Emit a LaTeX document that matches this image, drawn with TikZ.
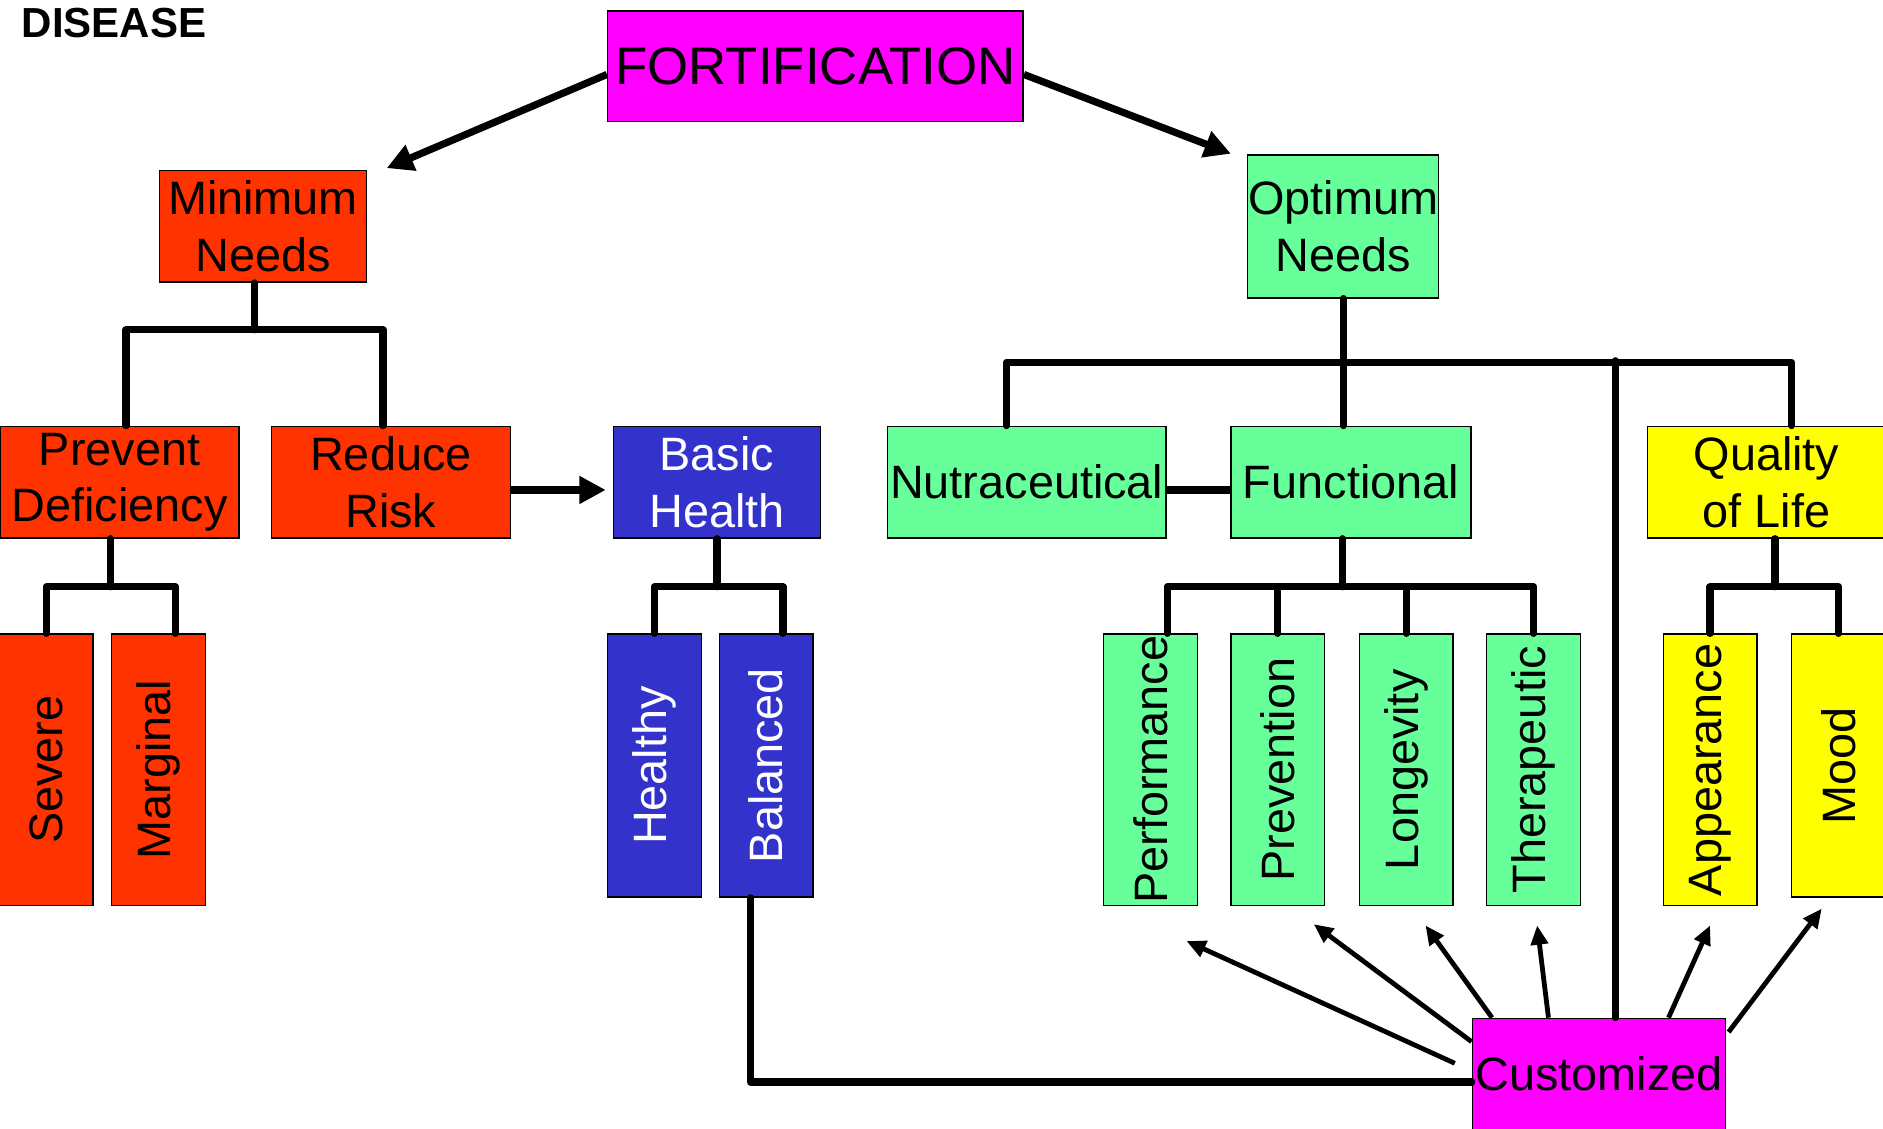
\documentclass[tikz,border=0pt]{standalone}
\usepackage{fontspec}
\usepackage{graphicx}
\setmainfont{Liberation Sans}
\usetikzlibrary{arrows.meta, positioning, calc}

\definecolor{fortmag}{HTML}{FF00FF}
\definecolor{minred}{HTML}{FF3300}
\definecolor{optgreen}{HTML}{66FF99}
\definecolor{basicblue}{HTML}{3333CC}
\definecolor{lifeyellow}{HTML}{FFFF00}

\newcommand{\uptext}[1]{\rotatebox{90}{#1}}

\tikzset{
  box/.style={draw=black, line width=1.2pt, inner sep=0pt, align=center,
    font=\fontsize{39}{47}\selectfont, minimum height=93},
  vbox/.style={box, minimum width=78, minimum height=226},
  tree/.style={line width=6pt, line cap=round, line join=round},
  bigarrow/.style={line width=6pt, -{Triangle[length=22pt,width=22pt]}},
  smallarrow/.style={line width=4pt, -{Triangle[length=16pt,width=14pt]}},
}

\begin{document}
\begin{tikzpicture}[x=1pt, y=-1pt]
    \useasboundingbox (0,0) rectangle (1568,940);

    % Title
    \node[anchor=west, inner sep=0pt, font=\fontsize{35}{42}\selectfont\bfseries] (disease) at (18,19) {DISEASE};

    % Top level
    \node[box, fill=fortmag, minimum width=346, minimum height=92,
          font=\fontsize{44}{53}\selectfont] (fort) at (679,55) {FORTIFICATION};
    \node[box, fill=minred, minimum width=172] (minneeds) at (219,188.5) {Minimum\\Needs};
    \node[box, fill=optgreen, minimum width=159, minimum height=119] (optneeds) at (1118.5,188.5) {Optimum\\Needs};

    % Second row
    \node[box, fill=minred, minimum width=199] (prevdef) at (99.5,401.5) {Prevent\\Deficiency};
    \node[box, fill=minred, minimum width=199] (redrisk) at (325.5,401.5) {Reduce\\Risk};
    \node[box, fill=basicblue, text=white, minimum width=172] (basic) at (597,401.5) {Basic\\Health};
    \node[box, fill=optgreen, minimum width=232] (nutra) at (855,401.5) {Nutraceutical};
    \node[box, fill=optgreen, minimum width=200] (func) at (1125,401.5) {Functional};
    \node[box, fill=lifeyellow, minimum width=198] (qual) at (1471,401.5) {Quality\\of Life};

    % Vertical boxes
    \node[vbox, fill=minred] (severe) at (38.5,641) {\uptext{Severe}};
    \node[vbox, fill=minred] (marginal) at (132,641) {\uptext{Marginal}};
    \node[vbox, fill=basicblue, text=white, minimum height=219] (healthy) at (545,637.5) {\uptext{Healthy}};
    \node[vbox, fill=basicblue, text=white, minimum height=219] (balanced) at (638,637.5) {\uptext{Balanced}};
    \node[vbox, fill=optgreen] (perf) at (958,641) {\uptext{Performance}};
    \node[vbox, fill=optgreen] (prev) at (1064,641) {\uptext{Prevention}};
    \node[vbox, fill=optgreen] (longev) at (1171,641) {\uptext{Longevity}};
    \node[vbox, fill=optgreen] (thera) at (1277,641) {\uptext{Therapeutic}};
    \node[vbox, fill=lifeyellow] (appear) at (1424,641) {\uptext{Appearance}};
    \node[vbox, fill=lifeyellow, minimum height=219] (mood) at (1531,637.5) {\uptext{Mood}};

    % Bottom
    \node[box, fill=fortmag, minimum width=211] (cust) at (1331.5,894.5) {Customized};

    % Arrows from the top
    \coordinate (minin) at (322,140);
    \coordinate (optin) at (1025,128);
    \draw[bigarrow] ($(fort.west)+(0,7)$) -- (minin);
    \draw[bigarrow] ($(fort.east)+(0,7)$) -- (optin);
    \draw[bigarrow] ($(redrisk.east)+(0,6.5)$) -- ($(basic.west)+(-6,6.5)$);

    % Minimum needs
    \draw[tree] ($(minneeds.south)+(-7,0)$) -- ++(0,39) coordinate (mfork);
    \draw[tree] ($(prevdef.north)+(5.5,0)$) |- (mfork) -| ($(redrisk.north)+(-6.5,0)$);
    \draw[tree] ($(prevdef.south)+(-7.5,0)$) -- ++(0,40) coordinate (pfork);
    \draw[tree] (severe.north) |- (pfork) -| ($(marginal.north)+(14,0)$);

    % Basic health
    \draw[tree] (basic.south) -- ++(0,40) coordinate (bfork);
    \draw[tree] (healthy.north) |- (bfork) -| ($(balanced.north)+(14,0)$);

    % Optimum needs
    \draw[tree] (optneeds.south) -- (optneeds.south |- func.north);
    \path (optneeds.south) ++(0,53) coordinate (ofork);
    \draw[tree] ($(nutra.north)+(-17,0)$) |- (ofork) -| ($(qual.north)+(21,0)$);
    \draw[tree] ($(cust.north)+(13.5,0)$) -- ++(0,-547);
    \draw[line width=6pt] ($(nutra.east)+(0,6.5)$) -- ($(func.west)+(0,6.5)$);

    % Functional
    \draw[tree] ($(func.south)+(-7,0)$) -- ++(0,40) coordinate (ffork);
    \draw[tree] ($(perf.north)+(14,0)$) |- (ffork) -| (thera.north);
    \draw[tree] (prev.north) -- (prev.north |- ffork);
    \draw[tree] (longev.north) -- (longev.north |- ffork);

    % Quality of life
    \draw[tree] ($(qual.south)+(7,0)$) -- ++(0,40) coordinate (qfork);
    \draw[tree] (appear.north) |- (qfork) -| (mood.north);

    % Balanced to customized
    \draw[tree] ($(balanced.south)+(-13,0)$) |- ($(cust.west)+(0,6.5)$);

    % Customized arrows
    \foreach \tgt/\sx/\sy/\tx/\ty in {perf/-14/38/30/29, prev/0/20/30/15, longev/17/0/16/16,
                                      thera/64/0/3/16, appear/164/0/0/16, mood/214/12/-14/9} {
        \draw[smallarrow] ($(cust.north west)+(\sx,\sy)$) -- ($(\tgt.south)+(\tx,\ty)$);
    }
\end{tikzpicture}
\end{document}
